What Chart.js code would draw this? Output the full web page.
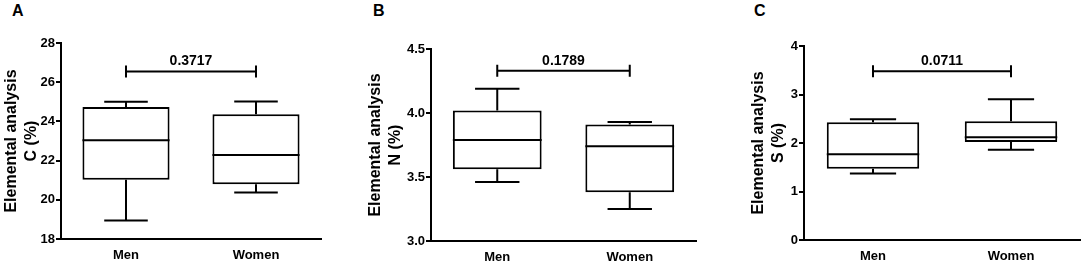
<!DOCTYPE html>
<html>
<head>
<meta charset="utf-8">
<script src="https://cdn.jsdelivr.net/npm/chart.js@4"></script>
<style>
  body { margin: 0; background: #fff; width: 1084px; height: 265px; position: relative; overflow: hidden; font-family: "Liberation Sans", Arial, sans-serif; }
  .panel { position: absolute; top: 0; height: 265px; }
  .tag { position: absolute; top: 2px; font-weight: bold; font-size: 16px; color: #000; }
</style>
</head>
<body>
<div class="tag" style="left:12px">A</div>
<div class="tag" style="left:373px">B</div>
<div class="tag" style="left:754px">C</div>
<div class="panel" style="left:0px;width:361px"><canvas id="chartA"></canvas></div>
<div class="panel" style="left:361px;width:361px"><canvas id="chartB"></canvas></div>
<div class="panel" style="left:722px;width:362px"><canvas id="chartC"></canvas></div>
<script>
const categories = ['Men', 'Women'];

// A - carbon
const carbonMin = [18.95, 20.37];
const carbonQ1 = [21.02, 20.79];
const carbonMedian = [23.04, 22.29];
const carbonQ3 = [24.73, 24.37];
const carbonMax = [25.0, 25.02];

// B - nitrogen
const nitrogenMin = [3.46, 3.25];
const nitrogenQ1 = [3.56, 3.38];
const nitrogenMedian = [3.79, 3.74];
const nitrogenQ3 = [4.02, 3.91];
const nitrogenMax = [4.19, 3.93];

// C - sulfur
const sulfurMin = [1.37, 1.86];
const sulfurQ1 = [1.47, 2.02];
const sulfurMedian = [1.77, 2.12];
const sulfurQ3 = [2.43, 2.45];
const sulfurMax = [2.49, 2.90];

const pValues = ['0.3717', '0.1789', '0.0711'];
const bracketLevels = [26.55, 4.33, 3.48];
const axisTitles = [['Elemental analysis', 'C (%)'], ['Elemental analysis', 'N (%)'], ['Elemental analysis', 'S (%)']];
const yMins = [18, 3.0, 0];
const yMaxs = [28, 4.5, 4];
const ySteps = [2, 0.5, 1];
const yDecimals = [0, 1, 0];

const FONT = '"Liberation Sans", Arial, sans-serif';

// whiskers, medians and the p-value bracket
const boxExtras = {
    id: 'boxExtras',
    afterDatasetsDraw(chart, args, opts) {
        const ctx = chart.ctx;
        const y = chart.scales.y;
        const bars = chart.getDatasetMeta(0).data;
        ctx.save();
        ctx.strokeStyle = '#000';
        ctx.lineWidth = 2;
        bars.forEach((bar, i) => {
            const x = bar.x;
            const w = bar.width;
            const cap = w * 0.25;
            const yq1 = y.getPixelForValue(opts.q1[i]);
            const yq3 = y.getPixelForValue(opts.q3[i]);
            const ymin = y.getPixelForValue(opts.min[i]);
            const ymax = y.getPixelForValue(opts.max[i]);
            const ymed = y.getPixelForValue(opts.median[i]);
            ctx.beginPath();
            ctx.moveTo(x, yq3); ctx.lineTo(x, ymax);
            ctx.moveTo(x - cap, ymax); ctx.lineTo(x + cap, ymax);
            ctx.moveTo(x, yq1); ctx.lineTo(x, ymin);
            ctx.moveTo(x - cap, ymin); ctx.lineTo(x + cap, ymin);
            ctx.moveTo(x - w / 2, ymed); ctx.lineTo(x + w / 2, ymed);
            ctx.stroke();
        });
        // bracket
        const by = y.getPixelForValue(opts.level);
        const x1 = bars[0].x, x2 = bars[1].x;
        ctx.beginPath();
        ctx.moveTo(x1, by); ctx.lineTo(x2, by);
        ctx.moveTo(x1, by - 6); ctx.lineTo(x1, by + 6);
        ctx.moveTo(x2, by - 6); ctx.lineTo(x2, by + 6);
        ctx.stroke();
        ctx.fillStyle = '#000';
        ctx.font = 'bold 14px ' + FONT;
        ctx.textAlign = 'center';
        ctx.textBaseline = 'alphabetic';
        ctx.fillText(opts.p, (x1 + x2) / 2, by - 6);
        ctx.restore();
    }
};

function makePanel(id, k, mins, q1s, meds, q3s, maxs, lay) {
    new Chart(document.getElementById(id), {
        type: 'bar',
        data: {
            labels: categories,
            datasets: [{
                data: categories.map((c, i) => [q1s[i], q3s[i]]),
                backgroundColor: '#fff',
                borderColor: '#000',
                borderWidth: 2,
                borderSkipped: false,
                barPercentage: 0.67,
                categoryPercentage: 1
            }]
        },
        options: {
            responsive: true,
            maintainAspectRatio: false,
            animation: false,
            layout: { padding: { left: lay.padLeft, right: lay.padRight, top: lay.top, bottom: 0 } },
            plugins: {
                legend: { display: false },
                tooltip: { enabled: false },
                boxExtras: { min: mins, q1: q1s, median: meds, q3: q3s, max: maxs, p: pValues[k], level: bracketLevels[k] }
            },
            scales: {
                x: {
                    offset: true,
                    grid: { display: false, drawTicks: false },
                    border: { display: true, color: '#000', width: 2 },
                    ticks: { color: '#000', padding: 9, font: { family: FONT, size: 13, weight: 'bold' } },
                    afterFit: s => { s.height = lay.xHeight; }
                },
                y: {
                    min: yMins[k],
                    max: yMaxs[k],
                    grid: { drawOnChartArea: false, drawTicks: true, tickLength: 5, color: '#000', lineWidth: 2 },
                    border: { display: true, color: '#000', width: 2 },
                    ticks: {
                        stepSize: ySteps[k],
                        color: '#000',
                        padding: 1,
                        font: { family: FONT, size: 13, weight: 'bold' },
                        callback: v => Number(v).toFixed(yDecimals[k])
                    },
                    title: {
                        display: true,
                        text: axisTitles[k],
                        color: '#000',
                        padding: { top: 2, bottom: 0 },
                        font: { family: FONT, size: 16, weight: 'bold', lineHeight: 1.25 }
                    },
                    afterFit: s => { s.width = lay.yWidth; }
                }
            }
        },
        plugins: [boxExtras]
    });
}

makePanel('chartA', 0, carbonMin, carbonQ1, carbonMedian, carbonQ3, carbonMax,
    { padLeft: 0, yWidth: 61, padRight: 40, top: 43, xHeight: 26 });
makePanel('chartB', 1, nitrogenMin, nitrogenQ1, nitrogenMedian, nitrogenQ3, nitrogenMax,
    { padLeft: 3, yWidth: 67, padRight: 26, top: 49, xHeight: 24 });
makePanel('chartC', 2, sulfurMin, sulfurQ1, sulfurMedian, sulfurQ3, sulfurMax,
    { padLeft: 25, yWidth: 57, padRight: 4, top: 46, xHeight: 25 });
</script>
</body>
</html>
